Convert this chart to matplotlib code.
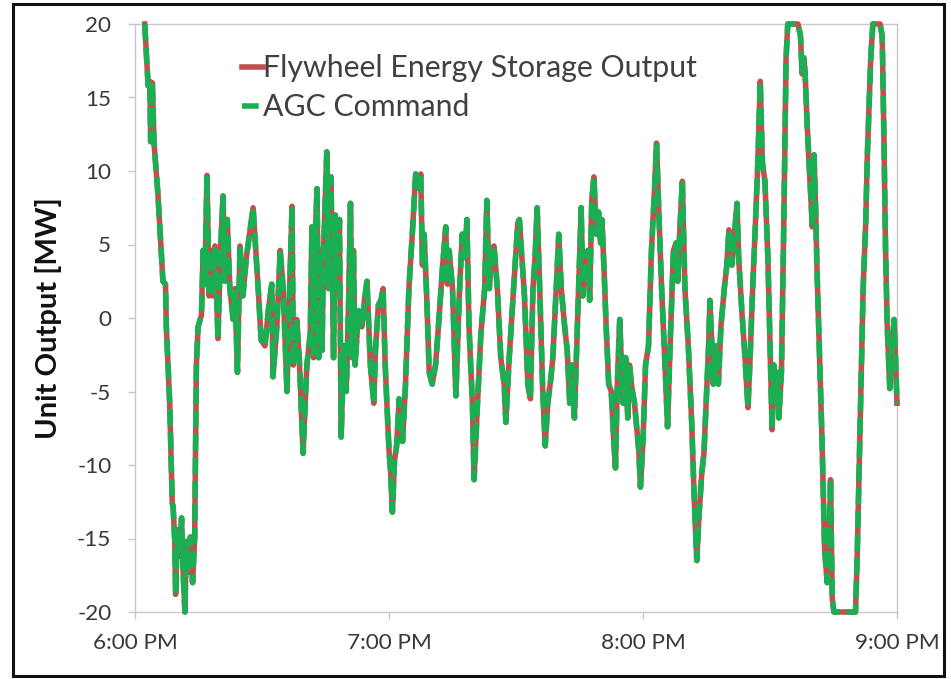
import matplotlib
matplotlib.use("Agg")
import matplotlib.pyplot as plt
from matplotlib.patches import Rectangle

# minutes after 6:00 PM
minutes = [2.3, 3.1, 3.5, 3.7, 4.1, 4.5, 5.4, 6.6, 7.2, 7.4, 8.2, 8.8, 9.0, 9.4, 9.6, 10.0, 10.6, 11.0, 11.4, 11.8,
           12.1, 12.5, 13.1, 13.6, 14.1, 14.5, 14.9, 15.7, 16.1, 16.5, 17.0, 17.5, 18.0, 18.4, 18.9, 19.6, 20.2, 20.8,
           21.2, 21.8, 22.4, 23.2, 23.6, 24.2, 24.8, 25.5, 26.3, 27.9, 29.1, 29.8, 30.7, 31.5, 32.3, 32.6, 33.5, 34.3,
           35.0, 35.9, 36.4, 37.1, 37.4, 38.2, 38.8, 39.7, 40.6, 41.4, 41.8, 42.2, 42.6, 43.0, 43.4, 43.8, 44.2, 44.5,
           44.9, 45.3, 45.7, 46.3, 46.9, 47.3, 47.7, 48.3, 48.7, 49.3, 49.9, 50.5, 50.9, 51.3, 51.6, 52.0, 52.8, 53.6,
           54.2, 54.8, 55.6, 56.4, 56.8, 57.5, 58.1, 58.6, 59.1, 60.0, 60.4, 60.8, 61.3, 61.8, 62.4, 62.8, 63.2, 63.9,
           64.7, 65.5, 66.3, 67.1, 67.5, 67.9, 68.3, 68.9, 69.5, 70.2, 71.0, 71.8, 72.6, 73.4, 73.8, 74.2, 75.0, 75.8,
           76.6, 77.3, 77.9, 78.4, 78.9, 79.7, 80.1, 80.9, 81.7, 82.6, 83.1, 83.7, 84.2, 84.8, 85.6, 86.4, 87.2, 87.6,
           88.4, 89.2, 90.0, 90.4, 90.8, 91.4, 92.0, 92.8, 93.4, 94.0, 94.5, 95.0, 95.6, 96.3, 96.9, 97.5, 98.2, 98.7,
           99.5, 100.1, 100.7, 101.5, 102.1, 102.7, 103.2, 103.8, 104.5, 105.0, 105.4, 105.8, 106.4, 107.0, 107.4,
           107.9, 108.4, 109.0, 109.5, 110.0, 110.3, 110.8, 111.3, 111.9, 112.5, 113.1, 113.5, 113.9, 114.5, 114.9,
           115.3, 115.9, 116.4, 116.8, 117.4, 118.0, 119.0, 119.4, 120.0, 120.6, 121.3, 122.0, 122.7, 123.2, 123.8,
           124.4, 125.2, 125.8, 126.4, 127.2, 127.8, 128.2, 128.7, 129.3, 129.9, 130.7, 131.5, 132.1, 132.7, 133.2,
           133.9, 134.4, 135.1, 135.5, 135.8, 136.2, 136.6, 137.2, 137.8, 138.4, 139.2, 139.8, 140.3, 141.0, 141.6,
           142.2, 142.6, 143.3, 144.1, 144.8, 145.3, 145.9, 146.5, 147.1, 147.7, 148.2, 148.8, 149.5, 150.1, 150.5,
           150.9, 151.3, 151.7, 152.1, 152.7, 153.3, 153.8, 154.2, 156.6, 157.2, 157.6, 158.0, 158.3, 158.8, 159.6,
           160.0, 160.4, 160.8, 161.1, 161.5, 162.3, 162.9, 163.5, 163.9, 164.3, 164.7, 165.1, 170.2, 170.6, 171.4,
           172.0, 172.6, 173.0, 173.8, 174.3, 176.0, 176.5, 176.9, 177.3, 177.7, 178.3, 178.7, 179.3, 179.7, 180.0]

output_mw = [20, 15.8, 16.1, 12, 16, 11.9, 8.5, 2.5, 2.3, -0.6, -5.8, -12.6, -12.8, -15.2, -18.8, -14.4, -16.2, -13.6,
             -17.5, -20, -15.2, -17.3, -14.9, -18, -14.9, -3.2, -0.6, 0.2, 4.6, 2.3, 9.7, 1.5, 4.6, 1.5, 4.9, -1.4,
             4.6, 8.3, 2.5, 6.7, 2, -0.1, 2, -3.7, 4.9, 1.5, 4.1, 7.5, 2, -1.5, -1.9, 0.5, 2.3, -4, -0.6, 4.6, 2,
             -5, 0.7, 7.6, -3.2, -0.1, -2.7, -9.2, -3.2, -1.1, 6.2, -2.7, 5.7, 8.8, -2.7, 4.6, -2.2, 4.1, 7.8, 11.3,
             2, 9.6, -2.7, 7, 2, 6.7, -8.1, -1.9, -5, 1.5, 7.8, -2.7, 4.6, -3.2, 0.5, -0.6, 1.2, 2.5, -3.2, -5.8,
             -2.2, 0.9, 1.2, 2, -3.2, -9, -10.5, -13.2, -9.7, -8.7, -5.5, -6.8, -8.4, -4.5, 2, 5.7, 9.8, 8.8, 9.8,
             3.6, 5.7, 1.5, -3.7, -4.5, -3.2, -0.1, 3.3, 6.2, 2.3, 4.6, 2, -5.3, 1.5, 5.7, 4.1, 6.7, -0.6, -5.8,
             -11, -5.8, -1.1, 2, 8, 2, 4.6, 4.9, 2, -2.7, -4.5, -7.1, -2.7, 0.9, 4.6, 6.4, 6.7, 4.1, 1.5, -4.5,
             -5.5, 2, 4.1, 7.5, 2, -4.8, -8.7, -5.8, -4.2, -2.7, 2, 5.7, 2, -0.6, -2.2, -5.8, -3.2, -6.8, -0.6, 3.6,
             7.5, 1.5, 4.1, 4.6, 1.2, 8, 9.6, 5.7, 7.2, 5.1, 6.7, 3.3, -0.6, -4.5, -5, -8.4, -10.2, -4.8, -0.1,
             -3.2, -5.8, -2.7, -6.8, -3.2, -4.8, -5.8, -9, -11.5, -8.4, -3.2, -1.9, 4.6, 8.6, 11.9, 6.7, 2, -3.2,
             -7.4, -1.9, 4.6, 5.1, 2.5, 6, 9.3, 2, -1.9, -7.1, -12.3, -16.5, -13.6, -10.5, -9.2, -4.5, -1.9, 1.2,
             -1.4, -4.5, -1.9, -4.5, -0.6, 2, 3.6, 6, 3.6, 5.7, 7.8, 4.1, 0.7, -2.7, -6.1, -2.7, 2, 6, 10.4, 16.1,
             10.6, 9.3, 4.1, -3, -7.6, -3.2, -5.8, -3.7, -6.8, -3.7, 7.2, 17.7, 20, 20, 19.2, 16.6, 17.7, 16.6, 13,
             8.5, 6.2, 11.1, 7.2, 3.3, -0.6, -8.4, -15.7, -18, -16.2, -11, -19.1, -20, -20, -16.2, -5.8, 2, 6.4,
             11.1, 17.7, 20, 20, 19.2, 12.5, 4.6, -0.6, -4.8, -2.7, -0.1, -3.2, -5.8]

agc_command_mw = list(output_mw)

tick_minutes = [0, 60, 120, 180]
tick_labels = ["6:00 PM", "7:00 PM", "8:00 PM", "9:00 PM"]
y_ticks = [20, 15, 10, 5, 0, -5, -10, -15, -20]

plt.rcParams['font.family'] = ['Lato', 'DejaVu Sans']

fig = plt.figure(figsize=(9.51, 6.79), dpi=100)
ax = fig.add_axes([135/951, 1-612/679, (897-135)/951, (612-24)/679])

red = '#C0504D'
green = '#1BAF54'
ax.plot(minutes, output_mw, color=red, lw=4.0, solid_joinstyle='round', clip_on=False,
        label='Flywheel Energy Storage Output', zorder=3)
ax.plot(minutes, agc_command_mw, color=green, lw=4.0, dashes=(3.0, 1.2), clip_on=False,
        label='AGC Command', zorder=4)

ax.set_xlim(0, 180)
ax.set_ylim(-20, 20)
ax.set_xticks(tick_minutes)
ax.set_xticklabels(tick_labels)
ax.set_yticks(y_ticks)
ax.set_yticklabels([str(v) for v in y_ticks])

for s in ax.spines.values():
    s.set_color('#C8C8C8')
    s.set_linewidth(1.0)
ax.tick_params(axis='both', colors='#C8C8C8', labelcolor='#383838', length=5, width=1.0,
               labelsize=16.2, direction='out')
ax.tick_params(axis='x', pad=10)
ax.tick_params(axis='y', pad=12)

ax.set_ylabel('Unit Output [MW]', fontsize=21, fontweight='bold', color='#111111', labelpad=11)

leg = ax.legend(loc='upper left', bbox_to_anchor=(0.124, 0.969), frameon=False, fontsize=21.8,
                handlelength=0.7, handletextpad=0.0, labelspacing=0.36, borderaxespad=0)
for t in leg.get_texts():
    t.set_color('#404040')

fig.patches.append(Rectangle((13/951, 1-676/679), (944-13)/951, (676-4)/679, transform=fig.transFigure,
                             fill=False, edgecolor='#111111', lw=2.2))

fig.savefig('out.png', dpi=100)
